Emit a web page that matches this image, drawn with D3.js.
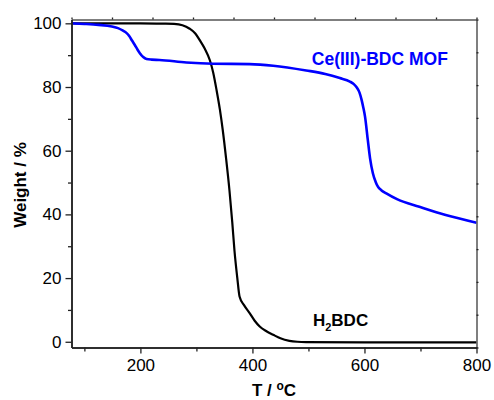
<!DOCTYPE html>
<html>
<head>
<meta charset="utf-8">
<script src="https://cdn.jsdelivr.net/npm/d3@7"></script>
<style>
	body { margin: 0; background: #fff; }
	svg { display: block; font-family: "Liberation Sans", Arial, sans-serif; }
	.tick text { font-size: 17px; fill: #000; }
	.title { font-size: 17px; font-weight: bold; }
</style>
</head>
<body>
<script>
// H2BDC curve (T in degC, weight %)
var acidT = [77, 150, 200, 240, 260, 275, 288, 298, 306, 315, 324, 330, 336, 342, 347, 353, 359, 364, 368, 373, 377, 385, 395, 404, 413, 425, 437, 450, 466, 480, 496, 600, 800],
	acidW = [100, 100, 100, 99.9, 99.8, 99.4, 98.3, 96.8, 94.7, 92.0, 88.4, 84.5, 79, 72.8, 66.5, 57.5, 47.5, 37.5, 28.5, 20, 14.2, 11.5, 9.0, 6.6, 4.8, 3.3, 2.2, 1.1, 0.3, 0, -0.1, -0.2, -0.2];

// Ce(III)-BDC MOF curve
var mofT = [77, 100, 125, 149, 160, 169, 175, 180, 185, 190, 195, 199, 205, 211, 220, 234, 282, 330, 395, 437, 496, 530, 556, 574, 581, 586, 591, 595, 598, 601, 606, 610, 615, 620, 624, 630, 639, 659, 698, 745, 800],
	mofW = [100, 99.8, 99.5, 99, 98.5, 97.7, 97.0, 96.0, 94.6, 93.2, 91.7, 90.6, 89.4, 88.8, 88.6, 88.5, 87.7, 87.3, 87.2, 86.7, 85.2, 84.1, 82.8, 81.7, 80.9, 79.9, 78.3, 75.9, 73.5, 70.7, 63.3, 57.6, 52.9, 50.2, 48.7, 47.6, 46.6, 44.7, 42.4, 39.8, 37.4];

var xTicks = [200, 400, 600, 800],
	xMinor = [100, 300, 500, 700],
	yTicks = [0, 20, 40, 60, 80, 100],
	yMinor = [10, 30, 50, 70, 90];

var width = 494,
	height = 400,
	margin = {top: 19.5, right: 17.5, bottom: 52.5, left: 71.5},
	w = width - margin.left - margin.right,
	h = height - margin.top - margin.bottom;

var svg = d3.select('body').append('svg')
	.attr('width', width)
	.attr('height', height);

var g = svg.append('g')
	.attr('transform', 'translate(' + margin.left + ',' + margin.top + ')');

var x = d3.scaleLinear().domain([77, 800]).range([0, w]),
	y = d3.scaleLinear().domain([-1.8, 101.2]).range([h, 0]);

// frame scales for top / right tiny ticks (10 divisions each)
var fx = d3.scaleLinear().domain([0, 10]).range([0, w]),
	fy = d3.scaleLinear().domain([0, 10]).range([h, 0]);

var line = d3.line()
	.x(function(d) { return x(d[0]); })
	.y(function(d) { return y(d[1]); })
	.curve(d3.curveMonotoneX);

g.append('path')
	.datum(d3.zip(acidT, acidW))
	.attr('d', line)
	.attr('fill', 'none')
	.attr('stroke', '#000')
	.attr('stroke-width', 2.2);

g.append('path')
	.datum(d3.zip(mofT, mofW))
	.attr('d', line)
	.attr('fill', 'none')
	.attr('stroke', '#0000ff')
	.attr('stroke-width', 2.6);

function styleAxis(sel) {
	sel.selectAll('.domain').attr('stroke', '#222').attr('stroke-width', 1.5);
	sel.selectAll('.tick line').attr('stroke', '#222').attr('stroke-width', 1.3);
}

// top and right frame
g.append('g')
	.call(d3.axisTop(fx).ticks(10).tickSize(2).tickSizeOuter(0).tickFormat(''))
	.call(styleAxis)
	.selectAll('.domain').attr('stroke', '#555');
g.append('g')
	.attr('transform', 'translate(' + w + ',0)')
	.call(d3.axisRight(fy).ticks(10).tickSize(2).tickSizeOuter(0).tickFormat(''))
	.call(styleAxis)
	.selectAll('.domain').attr('stroke', '#555');

// minor ticks
g.append('g')
	.attr('transform', 'translate(0,' + h + ')')
	.call(d3.axisBottom(x).tickValues(xMinor).tickSize(4).tickSizeOuter(0).tickFormat(''))
	.call(styleAxis);
g.append('g')
	.call(d3.axisLeft(y).tickValues(yMinor).tickSize(3.5).tickSizeOuter(0).tickFormat(''))
	.call(styleAxis);

// major axes
g.append('g')
	.attr('transform', 'translate(0,' + h + ')')
	.call(d3.axisBottom(x).tickValues(xTicks).tickSize(6).tickSizeOuter(0).tickPadding(5))
	.call(styleAxis);
g.append('g')
	.call(d3.axisLeft(y).tickValues(yTicks).tickSize(6).tickSizeOuter(0).tickPadding(4))
	.call(styleAxis);

// axis titles
svg.append('text')
	.attr('class', 'title')
	.attr('transform', 'translate(26,185) rotate(-90)')
	.attr('text-anchor', 'middle')
	.text('Weight / %');

var xt = svg.append('text')
	.attr('class', 'title')
	.attr('x', 274)
	.attr('y', 396)
	.attr('text-anchor', 'middle');
xt.append('tspan').text('T / ');
xt.append('tspan').attr('dy', -6).attr('font-size', 12).text('o');
xt.append('tspan').attr('dy', 6).text('C');

// series labels
g.append('text')
	.attr('class', 'title')
	.attr('x', x(506))
	.attr('y', y(87))
	.attr('fill', '#0000ff')
	.style('font-size', '17.5px')
	.text('Ce(III)-BDC MOF');

var lab = g.append('text')
	.attr('class', 'title')
	.attr('x', x(508))
	.attr('y', y(4.8));
lab.append('tspan').text('H');
lab.append('tspan').attr('dy', 5).attr('font-size', 11).text('2');
lab.append('tspan').attr('dy', -5).text('BDC');
</script>
</body>
</html>
